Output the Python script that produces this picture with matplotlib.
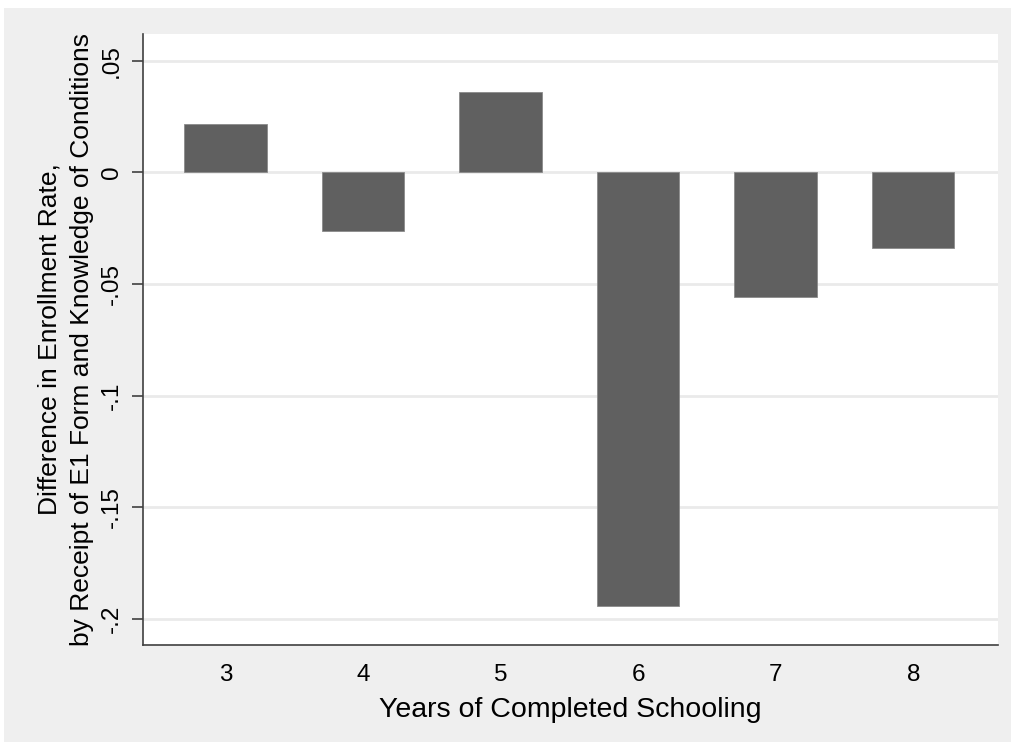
import matplotlib
matplotlib.use("Agg")
import matplotlib.pyplot as plt
from matplotlib.patches import Rectangle

plt.rcParams["font.family"] = ["Liberation Sans", "DejaVu Sans"]

years = [3, 4, 5, 6, 7, 8]
diff = [0.0216, -0.0262, 0.0358, -0.1943, -0.0559, -0.0339]
yticks = [-0.2, -0.15, -0.1, -0.05, 0, 0.05]
ytick_labels = ["-.2", "-.15", "-.1", "-.05", "0", ".05"]

fig = plt.figure(figsize=(10.11, 7.42), dpi=100)
fig.patch.set_facecolor("white")
# gray outer region (Stata-like), white strip at top and left
fig.patches.append(Rectangle((4 / 1011, -0.01), 1.02, 734 / 742 + 0.01,
                             transform=fig.transFigure, facecolor="#efefef",
                             edgecolor="none", zorder=-10))

ax = fig.add_axes([0.1411, 0.1311, 0.9868 - 0.1411, 0.9542 - 0.1311])
ax.set_facecolor("white")

ax.bar(years, diff, width=0.6, color="#606060", edgecolor="#8a8a8a",
       linewidth=0.6, zorder=3)

ax.set_xlim(2.396, 8.614)
ax.set_ylim(-0.2116, 0.062)
ax.set_xticks(years)
ax.set_yticks(yticks)
ax.set_yticklabels(ytick_labels, rotation=90, va="center")
ax.grid(axis="y", color="#eaeaea", linewidth=2, zorder=0)
ax.set_axisbelow(True)

for s in ["top", "right"]:
    ax.spines[s].set_visible(False)
for s in ["left", "bottom"]:
    ax.spines[s].set_color("#404040")
    ax.spines[s].set_linewidth(1.2)

ax.tick_params(axis="x", length=0, labelsize=17.5, pad=14)
ax.tick_params(axis="y", length=8, width=1.2, color="#404040",
               labelsize=17.5, pad=6)

ax.set_xlabel("Years of Completed Schooling", fontsize=20.5, labelpad=8)
ax.set_ylabel("Difference in Enrollment Rate,\n"
              "by Receipt of E1 Form and Knowledge of Conditions",
              fontsize=19, multialignment="center", labelpad=5,
              linespacing=1.45)

fig.savefig("out.png", dpi=100)
